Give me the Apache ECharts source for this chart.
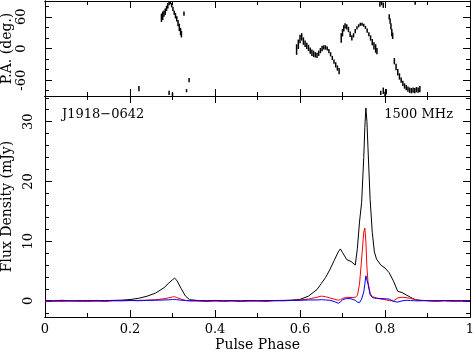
<!DOCTYPE html>
<html>
<head>
<meta charset="utf-8">
<style>
html,body{margin:0;padding:0;background:#fff;}
#chart{width:474px;height:352px;}
</style>
<script src="https://cdn.jsdelivr.net/npm/echarts@6.0.0/dist/echarts.min.js"></script>
</head>
<body>
<div id="chart"></div>
<script>
// pulse phase of the profile samples
const phase = [
  0, 0.02, 0.04, 0.06, 0.08, 0.10, 0.12, 0.14, 0.16, 0.18,
  0.20, 0.22, 0.24, 0.26, 0.28,
  0.29, 0.30, 0.305, 0.31, 0.32, 0.33, 0.34,
  0.36, 0.38, 0.40, 0.42, 0.44, 0.46, 0.48, 0.50, 0.52, 0.54, 0.56, 0.58,
  0.60, 0.62, 0.64,
  0.65, 0.66, 0.67, 0.68, 0.69,
  0.695, 0.70, 0.71, 0.72, 0.73,
  0.735, 0.74, 0.745, 0.75, 0.7525, 0.755, 0.7575, 0.76, 0.765, 0.77, 0.775, 0.78,
  0.79, 0.80, 0.81, 0.82, 0.83, 0.84, 0.85, 0.86, 0.87, 0.88,
  0.90, 0.92, 0.94, 0.96, 0.98, 1.0
]
// total intensity (black)
const stokesI = [
  0.05, -0.05, 0.02, 0.06, -0.04, 0.03, 0.0, 0.05, 0.08, 0.12,
  0.22, 0.42, 0.78, 1.3, 2.2,
  2.9, 3.55, 3.8, 3.45, 2.1, 0.85, 0.2,
  0.06, 0.02, 0.04, -0.02, 0.03, 0.0, 0.04, 0.02, 0.05, 0.06, 0.08, 0.12,
  0.25, 0.8, 1.9,
  2.9, 3.9, 5.2, 6.7, 8.2,
  8.7, 8.1, 6.9, 6.6, 6.0,
  8.8, 13.2, 16.5, 24.0, 29.0, 32.3, 30.0, 25.5, 17.0, 11.5, 8.2, 7.0,
  6.0, 5.5, 4.7, 3.3, 1.6, 1.4, 1.0, 0.6, 0.25, 0.1,
  0.04, 0.0, 0.05, 0.02, -0.03, 0.03
]
// linear polarisation (red)
const linearL = [
  -0.08, -0.02, -0.1, 0.0, -0.06, -0.1, -0.04, -0.08, 0.0, 0.02,
  0.05, 0.08, 0.12, 0.2, 0.35,
  0.5, 0.65, 0.7, 0.55, 0.3, 0.1, 0.0,
  -0.05, -0.1, -0.04, -0.08, -0.02, -0.1, -0.06, -0.03, -0.08, 0.0, 0.04, 0.08,
  0.15, 0.3, 0.6,
  0.8, 0.7, 0.5, 0.3, 0.1,
  0.2, 0.4, 0.6, 0.55, 0.6,
  0.9, 2.8, 7.0, 11.5, 12.2, 10.0, 5.5, 3.2, 1.3, 0.7, 0.6, 0.5,
  0.3, 0.2, 0.05, 0.0, 0.5, 0.6, 0.55, 0.4, 0.25, 0.1,
  0.0, -0.06, -0.02, -0.08, -0.04, 0.0
]
// circular polarisation (blue)
const circV = [
  0.08, 0.02, 0.1, -0.04, 0.06, 0.0, 0.08, -0.02, 0.05, 0.03,
  0.06, 0.02, 0.08, 0.1, 0.15,
  0.18, 0.22, 0.25, 0.2, 0.12, 0.05, 0.02,
  0.06, 0.0, 0.08, 0.02, 0.05, -0.02, 0.06, 0.03, 0.0, 0.05, 0.02, 0.06,
  0.1, 0.15, 0.15,
  0.2, 0.15, 0.1, -0.1, -0.4,
  -0.2, 0.2, 0.4, 0.35, 0.1,
  -0.2, -0.3, 0.3, 1.5, 2.8, 4.2, 4.5, 2.8, 1.0, 0.6, 0.45, 0.4,
  0.4, 0.35, 0.3, -0.1, -0.2, 0.0, 0.1, 0.05, 0.02, 0.0,
  0.05, 0.0, 0.06, 0.02, 0.04, 0.0
]

// position angle: [phase, PA (deg), error (deg)]
const paPoints = [
  [0.221, -76, 5],
  [0.274, 58, 8], [0.277, 62, 8], [0.280, 66, 6], [0.283, 70, 6], [0.286, 76, 5],
  [0.289, 81, 5], [0.292, 86, 4], [0.295, 88, 4], [0.298, 82, 4], [0.301, 75, 4],
  [0.304, 68, 4], [0.307, 62, 5], [0.310, 56, 5], [0.313, 48, 6], [0.316, 40, 7],
  [0.319, 32, 7], [0.321, 27, 6],
  [0.292, -84, 4], [0.300, -87, 3], [0.327, 66, 4], [0.333, -80, 3], [0.339, -60, 4],
  [0.592, -2, 10], [0.596, 8, 9], [0.600, 18, 8], [0.604, 22, 7], [0.608, 14, 7],
  [0.612, 9, 6], [0.616, 5, 6], [0.620, 1, 6], [0.624, -4, 6], [0.628, -8, 6],
  [0.632, -10, 6], [0.636, -12, 5], [0.640, -13, 5], [0.644, -9, 5], [0.648, -4, 5],
  [0.652, 0, 5], [0.656, 2, 4], [0.660, 2, 4], [0.664, 0, 4], [0.668, -5, 4],
  [0.672, -11, 4], [0.676, -18, 4], [0.680, -25, 4], [0.684, -31, 5], [0.688, -37, 5],
  [0.692, -43, 6],
  [0.697, 20, 9], [0.700, 30, 7], [0.703, 38, 6], [0.706, 43, 5], [0.710, 41, 5],
  [0.714, 36, 5], [0.718, 27, 5], [0.722, 20, 5], [0.726, 25, 4], [0.730, 33, 4],
  [0.734, 39, 3], [0.738, 43, 3], [0.742, 46, 3], [0.746, 46, 3], [0.750, 44, 3],
  [0.754, 40, 3], [0.758, 34, 4], [0.762, 27, 4], [0.766, 20, 5], [0.770, 12, 6],
  [0.774, 5, 7], [0.778, 0, 8], [0.781, -5, 6],
  [0.788, 84, 5], [0.792, 86, 4], [0.796, 82, 5],
  [0.790, -84, 4], [0.796, -80, 6], [0.800, -86, 4], [0.803, -82, 5],
  [0.810, 60, 5], [0.812, 52, 5], [0.814, 42, 6], [0.816, 30, 7], [0.818, 24, 6],
  [0.822, -24, 6], [0.826, -35, 6], [0.830, -45, 6], [0.834, -53, 6], [0.838, -60, 5],
  [0.842, -66, 5], [0.846, -71, 5], [0.850, -74, 5], [0.854, -77, 5], [0.858, -79, 5],
  [0.862, -80, 5], [0.866, -79, 5], [0.870, -80, 5], [0.874, -78, 5], [0.878, -79, 5],
  [0.882, -77, 6],
  [0.871, 87, 4]
]

// tick positions
const phaseMajor = [0, 0.2, 0.4, 0.6, 0.8, 1]
const phaseMinor = [0.1, 0.3, 0.5, 0.7, 0.9]
const paMajor = [-60, 0, 60]
const paMinor = [-80, -40, -20, 20, 40, 80]
const fluxMajor = [0, 10, 20, 30]
const fluxMinor = [-2, 2, 4, 6, 8, 12, 14, 16, 18, 22, 24, 26, 28, 32, 34]

const FONT = 'DejaVu Serif'
const MAJOR = 7, MINOR = 4

function axis(gridIndex, position, min, max, ticks, len, label, name){
  const a = {
    type: 'value', gridIndex, position, min, max,
    axisLine: {show: true, onZero: false, lineStyle: {color: '#000', width: 1}},
    axisTick: {show: true, inside: true, length: len, customValues: ticks,
      lineStyle: {color: '#000', width: 1}},
    axisLabel: {show: false},
    splitLine: {show: false}
  }
  if (label) {
    a.axisLabel = Object.assign({show: true, color: '#000', fontFamily: FONT, fontSize: 13}, label)
  }
  if (name) {
    Object.assign(a, {name: name.text, nameLocation: 'middle', nameGap: name.gap,
      nameRotate: name.rotate, nameMoveOverlap: false,
      nameTextStyle: {color: '#000', fontFamily: FONT, fontSize: 14}})
  }
  return a
}

function xAxes(g, withLabels){
  return [
    axis(g, 'bottom', 0, 1, phaseMajor, MAJOR,
      withLabels ? {customValues: phaseMajor, margin: 6} : null,
      withLabels ? {text: 'Pulse Phase', gap: 21, rotate: 0} : null),
    axis(g, 'bottom', 0, 1, phaseMinor, MINOR),
    axis(g, 'top', 0, 1, phaseMajor, MAJOR),
    axis(g, 'top', 0, 1, phaseMinor, MINOR)
  ]
}

// 左侧刻度标签与轴名称
function yAxes(g, min, max, major, minor, name, margin){
  return [
    axis(g, 'left', min, max, major, MAJOR, {customValues: major, rotate: 90, margin},
      {text: name, gap: 31, rotate: 90}),
    axis(g, 'left', min, max, minor, MINOR),
    axis(g, 'right', min, max, major, MAJOR),
    axis(g, 'right', min, max, minor, MINOR)
  ]
}

const chart = echarts.init(document.getElementById('chart'), null, {renderer: 'canvas'})

function profileLine(values, color){
  return {
    type: 'line', xAxisIndex: 4, yAxisIndex: 4,
    data: phase.map((p, i) => [p, values[i]]),
    symbol: 'none', smooth: false, silent: true,
    lineStyle: {color, width: 1}
  }
}

const option = {
  animation: false,
  backgroundColor: '#fff',
  grid: [
    {left: 45, right: 4, top: 1, height: 95, containLabel: false, outerBoundsMode: 'none'},
    {left: 45, right: 4, top: 96, bottom: 35, containLabel: false, outerBoundsMode: 'none'}
  ],
  xAxis: [...xAxes(0, false), ...xAxes(1, true)],
  yAxis: [
    ...yAxes(0, -90, 90, paMajor, paMinor, 'P.A. (deg.)', 17),
    ...yAxes(1, -2.7, 34.3, fluxMajor, fluxMinor, 'Flux Density (mJy)', 10)
  ],
  series: [
    {
      // PA error bars
      type: 'custom', xAxisIndex: 0, yAxisIndex: 0,
      data: paPoints, silent: true,
      renderItem(params, api){
        const x = api.value(0), y = api.value(1), e = api.value(2)
        const lo = api.coord([x, Math.max(-90, y - e)])
        const hi = api.coord([x, Math.min(90, y + e)])
        return {type: 'line', shape: {x1: lo[0], y1: lo[1], x2: hi[0], y2: hi[1]},
          style: {stroke: '#000', lineWidth: 1.5}}
      }
    },
    profileLine(stokesI, '#000'),
    profileLine(linearL, '#ff0000'),
    profileLine(circV, '#0000ff')
  ],
  graphic: [
    {type: 'text', left: 62, top: 108,
      style: {text: 'J1918\u22120642', font: '13px "DejaVu Serif"', fill: '#000'}},
    {type: 'text', right: 21, top: 108,
      style: {text: '1500 MHz', font: '13px "DejaVu Serif"', fill: '#000'}}
  ]
}
chart.setOption(option)
</script>
</body>
</html>
